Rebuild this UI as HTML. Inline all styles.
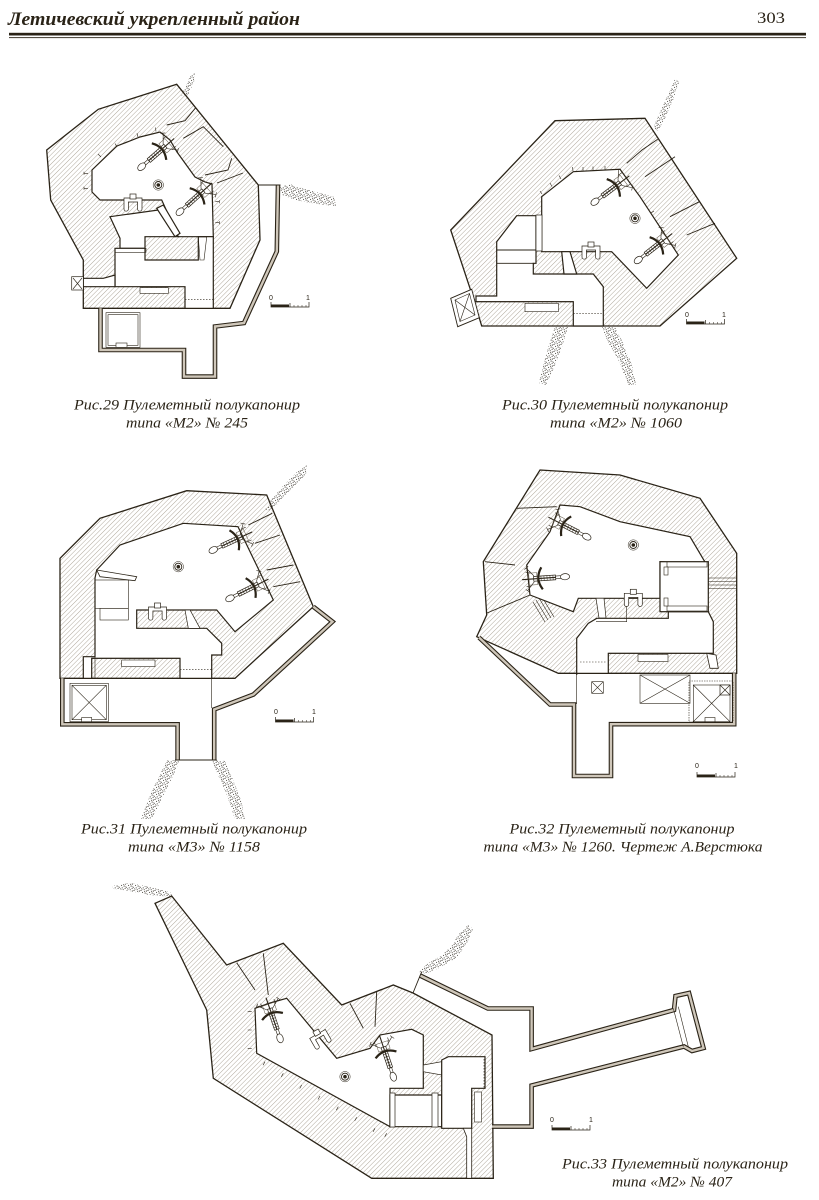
<!DOCTYPE html>
<html><head><meta charset="utf-8"><style>
html,body{margin:0;padding:0;background:#fff;}
svg{display:block;}
.hb{fill:url(#h);stroke:#2a2317;stroke-width:1.3;stroke-linejoin:miter}
.wr{fill:#fff;stroke:#2a2317;stroke-width:1.2;stroke-linejoin:miter}
.ln{fill:none;stroke:#2a2317;stroke-width:0.9}
.tl{fill:none;stroke:#2a2317;stroke-width:0.6}
.wo{fill:none;stroke:#2a2317;stroke-width:4.6;stroke-linejoin:miter}
.wi{fill:none;stroke:#cfc7ba;stroke-width:2.4;stroke-linejoin:miter}
.soil{fill:url(#st);stroke:none}
.cap{font-family:"Liberation Serif","DejaVu Serif",serif;font-style:italic;font-size:15px;fill:#2a2317}
.sbt{font-family:"Liberation Sans",sans-serif;font-size:7px;fill:#2a2317}
</style></head><body>
<svg width="819" height="1200" viewBox="0 0 819 1200" xmlns="http://www.w3.org/2000/svg">
<defs>
<pattern id="h" width="3.3" height="3.3" patternUnits="userSpaceOnUse" patternTransform="rotate(45)">
<line x1="0" y1="0" x2="0" y2="3.3" stroke="#8f8473" stroke-width="0.7"/>
</pattern>
<pattern id="st" width="7" height="7" patternUnits="userSpaceOnUse">
<g fill="#1f1a10">
<circle cx="1" cy="1.5" r="0.55"/><circle cx="4.2" cy="0.8" r="0.5"/><circle cx="6.3" cy="2.1" r="0.55"/>
<circle cx="2.6" cy="3.4" r="0.5"/><circle cx="5.1" cy="4.1" r="0.55"/><circle cx="0.4" cy="5.2" r="0.45"/>
<circle cx="3.2" cy="5.9" r="0.5"/><circle cx="6.1" cy="6.4" r="0.5"/><circle cx="1.7" cy="6.8" r="0.4"/>
<circle cx="4.6" cy="2.4" r="0.45"/><circle cx="6.7" cy="4.9" r="0.4"/><circle cx="2" cy="0.2" r="0.4"/>
</g>
</pattern>
<g id="gun">
<ellipse cx="0" cy="0" rx="4.6" ry="3.1" fill="#fff" stroke="#2a2317" stroke-width="0.7"/>
<rect x="4.4" y="-1.3" width="5" height="2.6" fill="#fff" stroke="#2a2317" stroke-width="0.6"/>
<rect x="9.4" y="-2.4" width="22" height="4.8" fill="#fff" stroke="#2a2317" stroke-width="0.7"/>
<path d="M12,-2.4v4.8M15,-2.4v4.8M18,-2.4v4.8M21,-2.4v4.8M24,-2.4v4.8M27,-2.4v4.8" stroke="#2a2317" stroke-width="0.5"/>
<line x1="9" y1="0" x2="43" y2="0" stroke="#2a2317" stroke-width="1.1"/>
<path d="M23,-11 Q30.5,0 23,11" fill="none" stroke="#2a2317" stroke-width="2.2"/>
<rect x="28" y="-6" width="8" height="12" fill="none" stroke="#5e5444" stroke-width="0.5"/>
<path d="M31,-3L38,-11M31,3L38,11M36,-13l4,3M36,13l4,-3M34,-7h5M34,7h5" fill="none" stroke="#2a2317" stroke-width="0.6"/>
</g>
<g id="per">
<circle r="5.2" fill="#fff" stroke="#2a2317" stroke-width="0.5"/>
<circle r="3.5" fill="none" stroke="#2a2317" stroke-width="0.9"/>
<circle r="1.8" fill="#2a2317"/>
</g>
<g id="bench">
<path d="M-9,-5v11a2.2,2.2 0 0 0 4.4,0v-7h9.2v7a2.2,2.2 0 0 0 4.4,0v-11z" fill="#fff" stroke="#2a2317" stroke-width="0.7"/>
<rect x="-3" y="-9" width="6" height="5" fill="#fff" stroke="#2a2317" stroke-width="0.7"/>
</g>
<g id="sbar">
<path d="M0,-3V2H38V-3M19,2v-4" fill="none" stroke="#2a2317" stroke-width="0.7"/>
<rect x="0" y="-0.5" width="18" height="2.5" fill="#2a2317"/>
<path d="M23,2v-2M27,2v-2M31,2v-2M35,2v-2" stroke="#2a2317" stroke-width="0.5"/>
</g>
</defs>

<!-- HEADER -->
<text x="8" y="25" font-family="Liberation Serif, serif" font-style="italic" font-weight="bold" font-size="19" fill="#2a2317" textLength="292" lengthAdjust="spacingAndGlyphs">Летичевский  укрепленный район</text>
<text x="757" y="23" font-family="Liberation Serif, serif" font-size="16" fill="#2a2317" textLength="28" lengthAdjust="spacingAndGlyphs">303</text>
<rect x="9" y="32.8" width="797" height="2.7" fill="#2a2317"/>
<rect x="9" y="37.2" width="797" height="0.9" fill="#2a2317"/>

<!-- ========== DRAWING 1 (Рис.29) ========== -->
<polygon class="soil" points="181,96 186,86 190,76 195,73 194,82 188,95"/>
<polygon class="soil" points="280,187 290,184 302,188 316,192 334,197 336,206 316,204 296,200 282,195"/>
<polygon class="hb" points="46.7,150 98.3,109.3 176.7,84.3 258.3,185 260,240 230,308.3 83.3,308.3 83.3,260 50.7,200"/>
<path class="ln" d="M195.7,107.7L185,120.7L166.7,125M223.3,146.7L203.3,126.7L183.3,138.3M231.7,158.3L228,170L205,175M243,173L217,183"/>
<polygon class="wr" points="92,192 92,170 117,146 140,137 160,132 170,140 177,152 195,177 205,182 212,184 213.3,236.7 178.3,236.7 161.7,200 100,200"/>
<polygon class="wr" points="110,216.7 158.3,210 178.3,236.7 145,236.7 145,248.3 120,248.3 120,238.3"/>
<polygon class="wr" points="115,248.3 145,248.3 145,260 198.3,260 198.3,236.7 213.3,236.7 213.3,308.3 185,308.3 185,286.7 115,286.7"/>
<polygon class="wr" points="83.3,278.3 103.3,278.3 115,275 115,286.7 83.3,286.7"/>
<polygon class="wr" points="156.7,208.3 163.3,205 180,233.3 175,236.7"/>
<polygon class="tl" points="198.3,237 206.7,237 204,260 200,260"/>
<rect class="tl" x="115" y="248.3" width="31" height="4"/>
<rect class="wr" x="140" y="287.7" width="28.3" height="5.6" style="stroke-width:0.6"/>
<path class="tl" d="M185,299.3H213.3" stroke-dasharray="1.5 1.5"/>
<rect class="wr" x="71.7" y="276.7" width="11.6" height="13.3" style="stroke-width:0.7"/>
<path class="tl" d="M73,278L82,289M82,278L73,289"/>
<path class="tl" d="M88,173.3h-4m0,-1.5v3M88,188.3h-4m0,-1.5v3M101,157l-3,-3M117,147l-2,-3.5M138,137l-1,-3.8M156,131.5l-0.5,-4M215.3,201.7h4m0,-1.5v3M215.3,222.7h4m0,-1.5v3"/>
<use href="#gun" transform="translate(141.7,166.7) rotate(-41)"/>
<use href="#gun" transform="translate(180,211.7) rotate(-42)"/>
<use href="#per" transform="translate(158.3,185)"/>
<use href="#bench" transform="translate(133,203)"/>
<polyline class="wo" points="100.5,308.3 100.5,350 184,350 184,376.6 215,376.6 215,326.5 244,323 276.8,251.5 278,185"/>
<polyline class="wi" points="100.5,308.3 100.5,350 184,350 184,376.6 215,376.6 215,326.5 244,323 276.8,251.5 278,185"/>
<line class="ln" x1="258.3" y1="185" x2="280.5" y2="185"/>
<rect class="tl" x="106" y="312.7" width="34" height="34.6"/>
<rect class="tl" x="108" y="314.7" width="30" height="30.6"/>
<rect class="wr" x="116" y="343" width="11" height="4.3" style="stroke-width:0.6"/>
<use href="#sbar" transform="translate(271,305)"/>
<text class="sbt" x="269" y="300">0</text><text class="sbt" x="306" y="300">1</text>

<!-- ========== DRAWING 2 (Рис.30) ========== -->
<polygon class="soil" points="675,79 679,82 673,100 665,118 658,131 653,128 660,112 668,95"/>
<polygon class="soil" points="555,327 568,327 561,350 552,372 546,385 539,383 544,362 550,342"/>
<polygon class="soil" points="602,327 615,327 624,345 632,365 636,385 628,385 619,361 608,342"/>
<polygon class="hb" points="555,120.7 645,118.3 736.7,258.3 660,326 481.7,326 473.3,298.3 450.7,230"/>
<path class="ln" d="M657.7,139.3L642,150L626.7,163.3M675,156.7L645,176.7M699.3,201.7L670,216.7M715,223.3L686.7,235"/>
<polygon class="wr" points="541.7,196.7 573.3,171.7 620,169.3 640,196.7 678.3,255 646.7,288.3 611.7,251.7 541.7,251.7"/>
<polygon class="wr" points="496.7,241.7 516.7,215.7 536,215.7 536,263.3 533.3,263.3 533.3,274 593.3,274 603.3,286.7 603.3,326 573.3,326 573.3,301.7 476,301.7 476,296 496.7,296"/>
<path class="ln" d="M496.7,250H536M496.7,263.3H533.3"/>
<rect class="wr" x="536" y="215" width="6" height="36" style="stroke-width:0.7"/>
<polygon class="wr" points="561.7,251.7 570,251.7 576.7,274 564,274"/>
<line class="ln" x1="473.3" y1="301.7" x2="573.3" y2="301.7"/>
<rect class="wr" x="525" y="303.3" width="33.3" height="8.4" style="stroke-width:0.6"/>
<path class="tl" d="M573.3,313.3H603.3" stroke-dasharray="1.5 1.5"/>
<polygon class="wr" points="450.7,298.3 471.7,289.3 479.3,317.7 457.7,326.7" style="stroke-width:0.9"/>
<polygon class="tl" points="455,300 469.5,293.5 475,315 460,321.5"/>
<path class="tl" d="M455,300L475,315M469.5,293.5L460,321.5"/>
<path class="tl" d="M542,194l-2,-3M552,186.5l-2,-3.5M561,179l-2,-3.5M573,171l-0.5,-4M583,171l0,-4M593,170.5l0,-4M605,170l0,-4M651,213l3,-2"/>
<use href="#gun" transform="translate(595,201.7) rotate(-37)"/>
<use href="#gun" transform="translate(638.3,260) rotate(-38)"/>
<use href="#per" transform="translate(635,218.3)"/>
<use href="#bench" transform="translate(591,251)"/>
<use href="#sbar" transform="translate(686.5,322)"/>
<text class="sbt" x="685" y="317">0</text><text class="sbt" x="722" y="317">1</text>

<!-- ========== DRAWING 3 (Рис.31) ========== -->
<polygon class="soil" points="265,510 271,500 284,485 297,472 307,465 306,474 293,488 281,500 271,511"/>
<polygon class="soil" points="167,760 180,760 172,778 162,798 152,819 141,819 150,795 160,775"/>
<polygon class="soil" points="212,760 225,761 233,780 241,800 245,819 235,819 227,795 218,775"/>
<polygon class="hb" points="60,558.3 100,518.3 186.7,490.7 266.7,495 313.3,606.7 235,678.3 60,678.3"/>
<path class="ln" d="M272.3,513.3L248.3,525M280,535L255,543.3M293.3,565L266.7,570M300,581.7L273.3,586.7"/>
<polygon class="wr" points="96.7,570 120,545 183.3,523.3 238,526.7 273.3,600 235,631.7 216.7,610 136.7,610 136.7,628.3 206.7,628.3 221.7,643.3 221.7,655 211.7,655 211.7,678.3 180,678.3 180,658.3 91.7,658.3 91.7,678.3 83.3,678.3 83.3,656.7 95,656.7 95,578"/>
<polygon class="wr" points="96.7,570 136.7,576.7 135,580.7 100,576.7" style="stroke-width:0.8"/>
<rect class="tl" x="95" y="580" width="33.3" height="28.3"/>
<rect class="tl" x="100" y="608.3" width="28.3" height="11.7"/>
<polygon class="wr" points="185,610 190,610 200,628.3 188.3,628.3" style="stroke-width:0.7"/>
<line class="ln" x1="91.7" y1="658.3" x2="180" y2="658.3"/>
<rect class="wr" x="121.7" y="660" width="33.3" height="6.7" style="stroke-width:0.6"/>
<path class="tl" d="M180,669.3H211.7" stroke-dasharray="1.5 1.5"/>
<path class="tl" d="M211.7,678.3V708M95,656.7V678"/>
<use href="#gun" transform="translate(213.3,550) rotate(-25)"/>
<use href="#gun" transform="translate(230,598.3) rotate(-26.5)"/>
<use href="#per" transform="translate(178.3,566.7)"/>
<use href="#bench" transform="translate(157.5,612)"/>
<polyline class="wo" points="62.3,678.3 62.3,724.3 177.6,724.3 177.6,760"/>
<polyline class="wi" points="62.3,678.3 62.3,724.3 177.6,724.3 177.6,760"/>
<polyline class="wo" points="313.3,606.7 332.5,621.7 253.5,694.5 214.2,709.5 214.2,760"/>
<polyline class="wi" points="313.3,606.7 332.5,621.7 253.5,694.5 214.2,709.5 214.2,760"/>
<line class="ln" x1="175" y1="760" x2="216.7" y2="760"/>
<rect class="tl" x="70" y="683.3" width="38.3" height="38.4"/>
<rect class="tl" x="72" y="685.3" width="34.3" height="34.4"/>
<path class="tl" d="M72,685.3L106.3,719.7M106.3,685.3L72,719.7"/>
<rect class="wr" x="81.7" y="717.5" width="10" height="4.2" style="stroke-width:0.6"/>
<use href="#sbar" transform="translate(275.5,720)"/>
<text class="sbt" x="274" y="714">0</text><text class="sbt" x="312" y="714">1</text>

<!-- ========== DRAWING 4 (Рис.32) ========== -->
<polygon class="hb" points="540,470 620,475 700,498.3 736.7,553.3 736.7,673.3 558.3,673.3 476.7,636.7 486.7,615 483.3,561.7"/>
<path class="ln" d="M516.7,508.3L556.7,506.7M485,561.7L515,565M487,613L530,595"/>
<path class="tl" d="M533,602L545,622M536,600L548,620M539,598L551,618M542,597L554,617"/>
<polygon class="wr" points="560,505 580,506.7 620,521.7 690,536.7 706.7,565 660,561.7 660,598.3 606.7,598.3 578.3,598.3 573.3,611.7 530,595 526.7,565 550,531.7"/>
<polygon class="wr" points="576.7,675 576.7,638.3 588.3,623.3 596.7,618.3 668.3,618.3 668.3,611.7 708.3,611.7 713.3,621.7 713.3,653.3 608.3,653.3 608.3,673.3 576.7,673.3"/>
<rect class="wr" x="660" y="561.7" width="48.3" height="50"/>
<rect class="wr" x="667" y="562" width="40" height="5" style="stroke-width:0.6"/>
<rect class="wr" x="667" y="606" width="40" height="5" style="stroke-width:0.6"/>
<rect class="wr" x="664" y="567" width="4" height="8" style="stroke-width:0.6"/>
<rect class="wr" x="664" y="598" width="4" height="8" style="stroke-width:0.6"/>
<path class="tl" d="M708.3,578H736.7M708.3,581.5H736.7M708.3,585H736.7M708.3,588.5H736.7"/>
<polygon class="wr" points="596,598.3 604,598.3 606,618 599,618" style="stroke-width:0.7"/>
<path class="tl" d="M626.7,598.3V621.7H596" />
<line class="ln" x1="608.3" y1="653.3" x2="713.3" y2="653.3"/>
<rect class="wr" x="638" y="654.5" width="30" height="7" style="stroke-width:0.6"/>
<path class="tl" d="M580,662H606.7" stroke-dasharray="1.5 1.5"/>
<polygon class="wr" points="706.7,653.3 716,655 718.3,668.3 710,668.3" style="stroke-width:0.8"/>
<path class="tl" d="M576.7,673.3V704"/>
<polyline class="wo" points="479,637.5 550,704.5 574,704.5 574,776 611,776 611,724.2 734.2,724.2 734.2,673.3"/>
<polyline class="wi" points="479,637.5 550,704.5 574,704.5 574,776 611,776 611,724.2 734.2,724.2 734.2,673.3"/>
<rect class="tl" x="591.7" y="681.7" width="11.6" height="11.6"/>
<path class="tl" d="M591.7,681.7l11.6,11.6M603.3,681.7l-11.6,11.6"/>
<rect class="tl" x="640" y="675" width="50" height="28.3"/>
<path class="tl" d="M640,675L690,703.3M690,675L640,703.3"/>
<rect class="tl" x="689" y="681" width="44" height="41" stroke-dasharray="1.5 1"/>
<rect class="tl" x="693.3" y="685" width="36.7" height="36.7"/>
<path class="tl" d="M693.3,685l36.7,36.7M730,685l-36.7,36.7"/>
<rect class="wr" x="720" y="685" width="10" height="10" style="stroke-width:0.7"/>
<path class="tl" d="M720,685l10,10M730,685l-10,10"/>
<rect class="wr" x="705" y="717.5" width="10" height="4.2" style="stroke-width:0.6"/>
<use href="#gun" transform="translate(586.7,536.7) rotate(-153)"/>
<use href="#gun" transform="translate(565,576.7) rotate(176)"/>
<use href="#per" transform="translate(633.3,545)"/>
<use href="#bench" transform="translate(633.3,598.3)"/>
<use href="#sbar" transform="translate(697,775)"/>
<text class="sbt" x="695" y="768">0</text><text class="sbt" x="734" y="768">1</text>

<!-- ========== DRAWING 5 (Рис.33) ========== -->
<polygon class="soil" points="112,886 130,883 150,887 170,892 173,897 150,895 130,891 114,889"/>
<polygon class="soil" points="419,972 427,964 439,957 451,947 459,934 468,925 473,929 466,945 456,958 441,967 426,974"/>
<polygon class="hb" points="155,903.3 171.7,896 226.7,965 283.3,943.3 341.7,1005 393.3,985 413,993 492,1035 493.3,1178.3 371.7,1178.3 213.3,1078.3 206.7,1010"/>
<path class="ln" d="M236.7,962.7L255,990M263.3,953.3L268.3,995M350,1003.3L363.3,1028.3M376.7,991.7L375,1026.7"/>
<polygon class="wr" points="255,1008.3 270,1003 286.7,998.3 336.7,1058.3 370,1048.3 380,1035 411.7,1029.3 423.3,1035 423.3,1088.3 390,1088.3 390,1126.7 256.7,1053.3"/>
<polygon class="wr" points="423.3,1065 441.7,1061.7 441.7,1075 423.3,1071.7" style="stroke-width:0.7"/>
<polygon class="wr" points="390,1095 441.7,1095 441.7,1126.7 390,1126.7"/>
<polygon class="wr" points="441.7,1060 448.3,1056.7 485,1056.7 485,1088.3 471.7,1088.3 471.7,1128.3 441.7,1128.3"/>
<polygon class="wr" points="463.3,1128.3 471.7,1128.3 471.7,1178.3 466.7,1178.3 466.7,1136.7" style="stroke-width:0.8"/>
<rect class="wr" x="390" y="1093" width="5" height="34" style="stroke-width:0.7"/>
<rect class="wr" x="432" y="1093" width="6" height="34" style="stroke-width:0.7"/>
<rect class="wr" x="474.5" y="1092" width="7" height="30" style="stroke-width:0.6"/>
<path class="tl" d="M484,1059V1088" stroke-dasharray="1.5 1.5"/>
<path class="tl" d="M251.7,1011.7h-4M251.7,1030h-4M251.7,1048.3h-4M265,1061.7l-2,3.5M283.3,1073.3l-2,3.5M301.7,1085l-2,3.5M320,1096l-2,3.5M338.3,1106.7l-2,3.5M356.7,1117.3l-2,3.5M375,1128.3l-2,3.5M386.7,1133.3l-2,3.5"/>
<use href="#gun" transform="translate(280,1038.3) rotate(-109)"/>
<use href="#gun" transform="translate(393.3,1076.7) rotate(-108.5)"/>
<use href="#per" transform="translate(345,1076.7)"/>
<use href="#bench" transform="translate(320,1038.3) rotate(-30)"/>
<polyline class="wo" points="420,975.5 487.8,1008.5 531.6,1008.5 531.6,1049 674,1010 675.5,996 689,993 703.5,1048 692,1051 684,1046.5 531.6,1085.5 531.6,1126.6 492,1126.6"/>
<polyline class="wi" points="420,975.5 487.8,1008.5 531.6,1008.5 531.6,1049 674,1010 675.5,996 689,993 703.5,1048 692,1051 684,1046.5 531.6,1085.5 531.6,1126.6 492,1126.6"/>
<line class="ln" x1="421.7" y1="971.7" x2="413" y2="993"/>
<path class="tl" d="M673.3,1008.3L683.3,1046.7M678.3,1006.7L688.3,1046.7"/>
<use href="#sbar" transform="translate(552,1128)"/>
<text class="sbt" x="550" y="1122">0</text><text class="sbt" x="589" y="1122">1</text>

<!-- CAPTIONS -->
<text class="cap" x="187" y="409.5" text-anchor="middle" textLength="226" lengthAdjust="spacingAndGlyphs">Рис.29 Пулеметный полукапонир</text>
<text class="cap" x="187" y="427.5" text-anchor="middle" textLength="122" lengthAdjust="spacingAndGlyphs">типа «М2» № 245</text>
<text class="cap" x="615" y="409.5" text-anchor="middle" textLength="226" lengthAdjust="spacingAndGlyphs">Рис.30 Пулеметный полукапонир</text>
<text class="cap" x="616" y="427.5" text-anchor="middle" textLength="132" lengthAdjust="spacingAndGlyphs">типа «М2» № 1060</text>
<text class="cap" x="194" y="833.5" text-anchor="middle" textLength="226" lengthAdjust="spacingAndGlyphs">Рис.31 Пулеметный полукапонир</text>
<text class="cap" x="194" y="851.5" text-anchor="middle" textLength="132" lengthAdjust="spacingAndGlyphs">типа «М3» № 1158</text>
<text class="cap" x="622" y="833.5" text-anchor="middle" textLength="225" lengthAdjust="spacingAndGlyphs">Рис.32 Пулеметный полукапонир</text>
<text class="cap" x="623" y="851.5" text-anchor="middle" textLength="279" lengthAdjust="spacingAndGlyphs">типа «М3» № 1260. Чертеж А.Верстюка</text>
<text class="cap" x="675" y="1168.5" text-anchor="middle" textLength="226" lengthAdjust="spacingAndGlyphs">Рис.33 Пулеметный полукапонир</text>
<text class="cap" x="672" y="1186.5" text-anchor="middle" textLength="120" lengthAdjust="spacingAndGlyphs">типа «М2» № 407</text>
</svg>
</body></html>
